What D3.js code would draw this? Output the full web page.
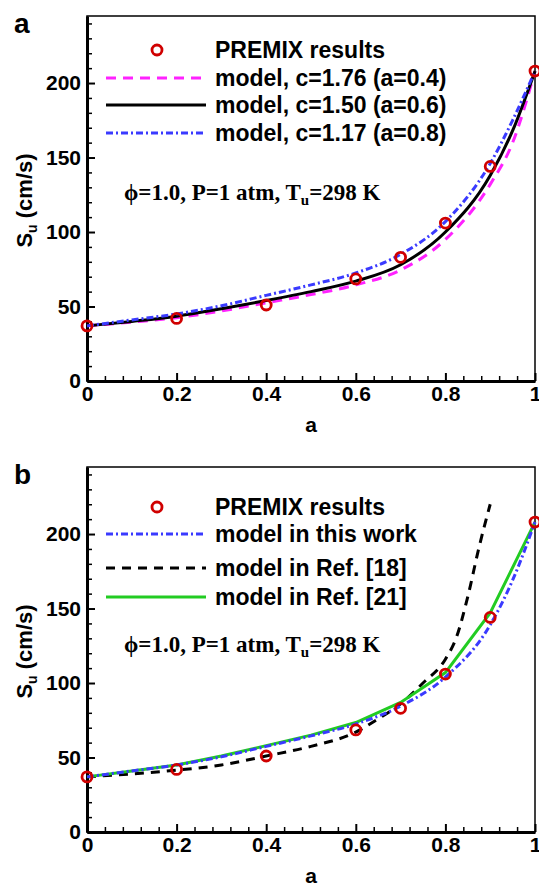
<!DOCTYPE html>
<html>
<head>
<meta charset="utf-8">
<script src="https://cdn.jsdelivr.net/npm/d3@7"></script>
<style>
  body { margin: 0; background: #fff; }
  svg { display: block; }
  .axis text { font-family: "Liberation Sans", Arial, sans-serif; font-weight: bold; font-size: 21px; fill: #000; }
  .lbl { font-family: "Liberation Sans", Arial, sans-serif; font-weight: bold; fill: #000; }
  .note { font-family: "Liberation Serif", "Times New Roman", serif; font-weight: bold; font-size: 23px; fill: #000; }
</style>
</head>
<body>
<div id="chart"></div>
<script>
/* Data */
var premixA = [0, 0.2, 0.4, 0.6, 0.7, 0.8, 0.9, 1.0];
var premixSu = [37, 42, 51, 68.5, 83, 106, 144, 208];

var gridA = [0, 0.1, 0.2, 0.3, 0.4, 0.5, 0.6, 0.7, 0.8, 0.9, 0.95, 1.0];
var modelC176 = [37, 39.5, 42.5, 47, 52.5, 58, 64.5, 74.5, 95, 132, 160, 208];
var modelC150 = [37, 40, 43.5, 48.5, 54, 60, 67, 78, 100, 138, 168, 208];
var modelC117 = [37, 41, 45, 50.5, 57.5, 64.5, 72.5, 85, 107, 146, 175, 208];

var thisWork = [37, 41, 45, 50.5, 57.5, 64.5, 72.5, 84.5, 104, 139, 169, 208];

var ref18A = [0, 0.1, 0.2, 0.3, 0.4, 0.5, 0.6, 0.65, 0.7, 0.75, 0.8, 0.825, 0.85, 0.875, 0.9];
var ref18Su = [37, 39, 41.5, 45, 51, 57.5, 67, 76, 86, 100, 116, 131, 158, 191, 220];

var ref21A = [0, 0.1, 0.2, 0.3, 0.4, 0.5, 0.6, 0.7, 0.8, 0.9, 1.0];
var ref21Su = [37, 41, 45, 51, 58, 65, 73.5, 87, 107, 147, 208];

var xTicks = [0, 0.2, 0.4, 0.6, 0.8, 1];
var yTicks = [0, 50, 100, 150, 200];

var width = 539;
var height = 884;
var left = 87;
var plotW = 448;
var plotH = 365;

var svg = d3
  .select("#chart")
  .append("svg")
  .attr("width", width)
  .attr("height", height);

function zip(xs, ys) {
  return xs.map((d, i) => ({ a: d, s: ys[i] }));
}

function panel(top, tag, series, legend, legendY, noteY) {
  var g = svg.append("g").attr("transform", `translate(${left}, ${top})`);

  var xScale = d3.scaleLinear().domain([0, 1]).range([0, plotW]);
  var yScale = d3.scaleLinear().domain([0, 245]).range([plotH, 0]);

  /* frame */
  g.append("rect")
    .attr("width", plotW)
    .attr("height", plotH)
    .attr("fill", "none")
    .attr("stroke", "#000")
    .attr("stroke-width", 1.5);

  /* minor ticks */
  g.append("g")
    .attr("class", "axis")
    .call(d3.axisLeft(yScale).tickValues(d3.range(10, 250, 10).filter(d => d % 50)).tickSize(-5).tickFormat(""))
    .call(s => s.select(".domain").remove())
    .selectAll("line").attr("stroke-width", 1.5);
  g.append("g")
    .attr("class", "axis")
    .attr("transform", `translate(0, ${plotH})`)
    .call(d3.axisBottom(xScale).tickValues(d3.range(1, 25).map(d => d * 0.04).filter((d, i) => (i + 1) % 5)).tickSize(-5).tickFormat(""))
    .call(s => s.select(".domain").remove())
    .selectAll("line").attr("stroke-width", 1.5);

  /* major axes */
  var yAxis = g.append("g")
    .attr("class", "axis")
    .call(d3.axisLeft(yScale).tickValues(yTicks).tickSize(-8).tickSizeOuter(0).tickPadding(6));
  var xAxis = g.append("g")
    .attr("class", "axis")
    .attr("transform", `translate(0, ${plotH})`)
    .call(d3.axisBottom(xScale).tickValues(xTicks).tickSize(-8).tickSizeOuter(0).tickPadding(5)
      .tickFormat(d => (d === 0 || d === 1) ? d3.format("d")(d) : d3.format(".1f")(d)));
  [xAxis, yAxis].forEach(ax => {
    ax.select(".domain").attr("stroke-width", 3);
    ax.selectAll(".tick line").attr("stroke-width", 2);
  });

  /* curves */
  series.forEach(sr => {
    var line = d3.line()
      .x(d => xScale(d.a))
      .y(d => yScale(d.s))
      .curve(sr.curve || d3.curveMonotoneX);
    g.append("path")
      .attr("d", line(zip(sr.a, sr.s)))
      .attr("fill", "none")
      .attr("stroke", sr.color)
      .attr("stroke-width", 3)
      .attr("stroke-dasharray", sr.dash || null);
  });

  /* PREMIX points */
  g.selectAll(".pt")
    .data(zip(premixA, premixSu))
    .enter()
    .append("circle")
    .attr("cx", d => xScale(d.a))
    .attr("cy", d => yScale(d.s))
    .attr("r", 5)
    .attr("fill", "none")
    .attr("stroke", "#d00000")
    .attr("stroke-width", 2.8);

  /* legend */
  legend.forEach((lg, i) => {
    var ly = legendY[i];
    if (lg.marker) {
      svg.append("circle")
        .attr("cx", 157).attr("cy", ly).attr("r", 5)
        .attr("fill", "none").attr("stroke", "#d00000").attr("stroke-width", 2.8);
    } else {
      svg.append("line")
        .attr("x1", 106).attr("x2", 206).attr("y1", ly).attr("y2", ly)
        .attr("stroke", lg.color).attr("stroke-width", 3)
        .attr("stroke-dasharray", lg.dash || null);
    }
    svg.append("text")
      .attr("class", "lbl")
      .attr("x", 215).attr("y", ly).attr("dy", "0.36em")
      .style("font-size", "23px")
      .text(lg.label);
  });

  /* condition note */
  var note = svg.append("text").attr("class", "note").attr("x", 124).attr("y", noteY);
  note.append("tspan").text("\u03D5=1.0, P=1 atm, T");
  note.append("tspan").attr("dy", 5).style("font-size", "15px").text("u");
  note.append("tspan").attr("dy", -5).text("=298 K");

  /* axis titles */
  svg.append("text")
    .attr("class", "lbl")
    .attr("x", left + plotW / 2).attr("y", top + plotH + 51)
    .attr("text-anchor", "middle")
    .style("font-size", "21px")
    .text("a");

  var yt = svg.append("text")
    .attr("class", "lbl")
    .attr("transform", `translate(32, ${top + plotH / 2 + 2}) rotate(-90)`)
    .attr("text-anchor", "middle")
    .style("font-size", "22px");
  yt.append("tspan").text("S");
  yt.append("tspan").attr("dy", 5).style("font-size", "14px").text("u");
  yt.append("tspan").attr("dy", -5).text(" (cm/s)");

  svg.append("text")
    .attr("class", "lbl")
    .attr("x", 14).attr("y", top + 17)
    .style("font-size", "28px")
    .text(tag);
}

panel(16, "a",
  [
    { a: gridA, s: modelC176, color: "#ff22ff", dash: "10,7" },
    { a: gridA, s: modelC150, color: "#000" },
    { a: gridA, s: modelC117, color: "#3a3aff", dash: "7,3,2,3" }
  ],
  [
    { marker: true, label: "PREMIX results" },
    { color: "#ff22ff", dash: "10,7", label: "model, c=1.76 (a=0.4)" },
    { color: "#000", label: "model, c=1.50 (a=0.6)" },
    { color: "#3a3aff", dash: "7,3,2,3", label: "model, c=1.17 (a=0.8)" }
  ],
  [50, 78, 105, 133], 200);

panel(467, "b",
  [
    { a: ref18A, s: ref18Su, color: "#000", dash: "9,7" },
    { a: ref21A, s: ref21Su, color: "#22cc22", curve: d3.curveLinear },
    { a: gridA, s: thisWork, color: "#3a3aff", dash: "7,3,2,3" }
  ],
  [
    { marker: true, label: "PREMIX results" },
    { color: "#3a3aff", dash: "7,3,2,3", label: "model in this work" },
    { color: "#000", dash: "9,7", label: "model in Ref. [18]" },
    { color: "#22cc22", label: "model in Ref. [21]" }
  ],
  [507, 534, 568, 597], 652);
</script>
</body>
</html>
